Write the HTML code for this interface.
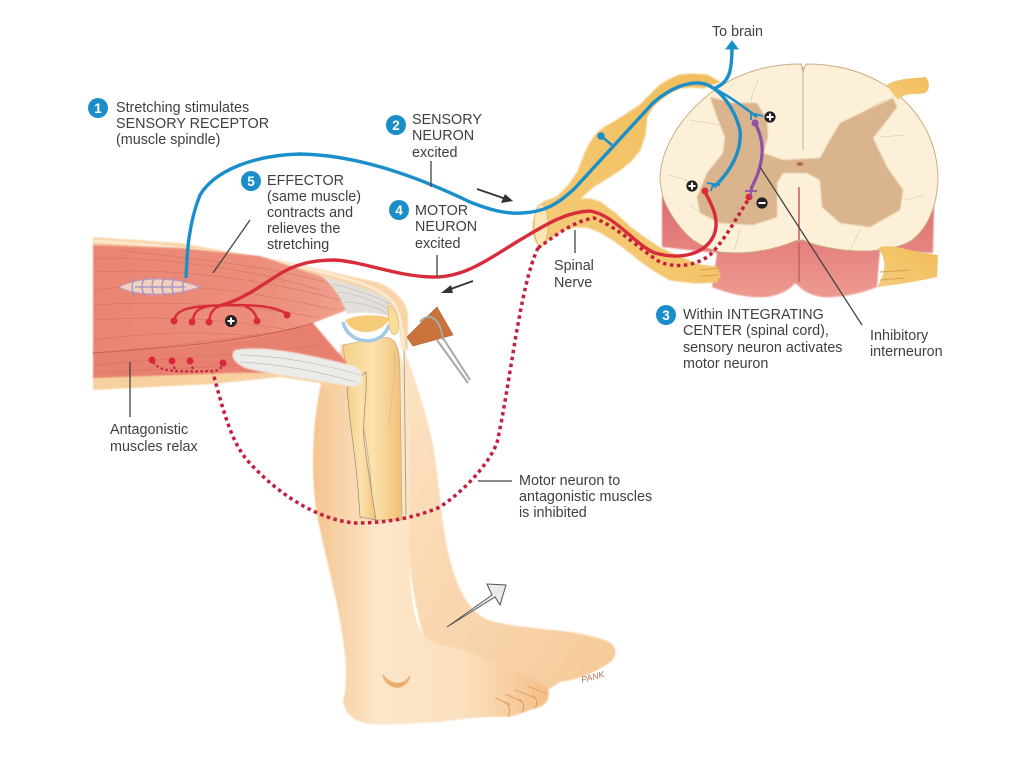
<!DOCTYPE html>
<html><head><meta charset="utf-8"><style>
html,body{margin:0;padding:0;background:#fff}
svg{display:block}
text{font-family:"Liberation Sans",sans-serif;font-size:14.35px;fill:#3f3f3f}
.n{fill:#fff;font-weight:bold;font-size:13.5px;text-anchor:middle}
.l{stroke:#444;stroke-width:1.3;fill:none}
</style></head><body>
<svg width="1024" height="767" viewBox="0 0 1024 767" xmlns="http://www.w3.org/2000/svg">
<defs>
<linearGradient id="skin" x1="0" x2="1" y1="0" y2="0"><stop offset="0" stop-color="#f5c48e"/><stop offset=".28" stop-color="#fce6c9"/><stop offset=".65" stop-color="#fbdfbd"/><stop offset="1" stop-color="#f4bf88"/></linearGradient>
<linearGradient id="skin2" x1="0" x2="1" y1="0" y2="1"><stop offset="0" stop-color="#fce3c4"/><stop offset="1" stop-color="#f6c998"/></linearGradient>
<linearGradient id="mus" x1="0" x2="1" y1="0" y2="0"><stop offset="0" stop-color="#ea8474"/><stop offset=".7" stop-color="#ec8e7c"/><stop offset="1" stop-color="#f0a08e"/></linearGradient>
<linearGradient id="nerve" x1="0" x2="1" y1="1" y2="0"><stop offset="0" stop-color="#f5cd7e"/><stop offset=".5" stop-color="#f3c468"/><stop offset="1" stop-color="#f0bc5e"/></linearGradient>
<linearGradient id="redc" x1="0" x2="0" y1="0" y2="1"><stop offset="0" stop-color="#dc6a6f"/><stop offset="1" stop-color="#ee9a90"/></linearGradient>
<linearGradient id="bone" x1="0" x2="1" y1="0" y2="0"><stop offset="0" stop-color="#f5cf88"/><stop offset=".5" stop-color="#fbe2ac"/><stop offset="1" stop-color="#f2c078"/></linearGradient>
<filter id="b" x="-5%" y="-5%" width="110%" height="110%"><feGaussianBlur stdDeviation=".7"/></filter>
</defs>
<rect width="1024" height="767" fill="#fff"/>

<!-- far leg -->
<path filter="url(#b)" d="M404 350C418 385 428 420 434 450C440 490 442 530 450 560C458 590 468 608 484 618C500 626 540 628 570 632C590 635 608 640 612 644C618 650 616 660 606 665C590 675 575 680 560 682L548 690L470 660L425 640C412 600 405 540 404 480Z" fill="url(#skin2)"/>
<!-- near leg -->
<path filter="url(#b)" d="M322 380C312 420 310 480 318 520C326 560 338 600 343 640C348 670 346 690 343 702C347 716 356 723 372 724C395 726 420 722 440 722C465 718 490 716 510 717C520 714 530 710 540 707C548 704 550 696 548 688C520 670 470 650 433 643C420 636 414 620 411 590C408 550 410 500 410 440C410 400 405 360 395 340L340 345C345 350 330 370 322 380Z" fill="url(#skin)"/>
<path d="M383 675C387 690 405 692 410 676C405 686 390 686 383 675Z" fill="#e8a866" stroke="#eab47a" stroke-width="1.5"/>
<path d="M495 698l16 7M505 694l18 8M515 690l20 8M528 686l18 8" stroke="#e6a468" stroke-width="1.2" fill="none"/>
<path d="M508 716c3-4 2-10-3-14M522 712c3-4 2-10-3-13M535 708c3-4 2-10-3-13" stroke="#e0985c" fill="none"/>
<text x="582" y="683" transform="rotate(-15 582 683)" style="font-size:9px;font-style:italic;fill:#b0785a">PANK</text>

<!-- tibia and fibula -->
<path d="M343 345C360 342 380 336 390 338C397 342 400 350 400 380L402 520L373 520C372 480 368 450 363 425C358 400 345 375 343 345Z" fill="url(#bone)" stroke="#bfa97c" stroke-width=".7"/>
<path d="M347 388L366 372C368 395 362 415 364 440C368 470 372 495 376 520L360 517C358 480 354 450 350 420Z" fill="url(#bone)" stroke="#8f8a78" stroke-width=".7"/>
<path d="M404 345L406 515" stroke="#a9a494" stroke-width="1" fill="none"/>
<path d="M394 350C396 385 391 395 389 425" stroke="#d9bf90" stroke-width="1" fill="none"/>

<!-- thigh skin strips -->
<path filter="url(#b)" d="M93 237L180 243L293 263L380 283C395 290 405 300 408 313L408 350L402 350L398 320L385 300L330 280L260 258L93 246Z" fill="#f8d5a8"/>
<path d="M93 241C170 245 250 255 315 270C350 280 380 285 395 305C402 320 403 335 404 350" fill="none" stroke="#fbe8cd" stroke-width="3"/>
<path filter="url(#b)" d="M93 375L230 372L300 368L340 372L330 390L320 383L280 377L213 384L93 390Z" fill="#f7d0a0"/>

<!-- hamstring -->
<path filter="url(#b)" d="M93 352L190 345L313 323L347 363L340 372L230 373L93 378Z" fill="#e8806f"/>
<!-- quadriceps -->
<path filter="url(#b)" d="M93 245L180 248L260 256L323 277C335 285 345 298 347 310L313 323L260 338L190 347L93 354Z" fill="url(#mus)"/>
<g stroke="#cb6454" stroke-width=".6" fill="none" opacity=".65">
<path d="M95 258C160 258 240 266 320 290M95 272C170 268 250 276 340 300M95 290C170 280 250 290 335 310M95 305C170 300 250 305 320 318M95 320C170 315 230 320 290 330M95 340C170 330 220 332 260 337M120 250C180 258 250 262 325 282M110 352C170 345 230 340 300 328M95 365C170 358 240 355 320 345M95 372C170 370 240 365 335 360"/>
</g>
<path d="M93 353C170 348 260 340 313 323" stroke="#c9604f" stroke-width="1" fill="none"/>

<!-- tendons -->
<path filter="url(#b)" d="M323 277C345 282 372 290 390 300L390 317C375 312 360 312 347 314C342 300 335 288 323 277Z" fill="#e2dfdb"/>
<path filter="url(#b)" d="M235 350C260 345 300 352 355 366C365 372 364 385 353 387C320 380 270 375 245 368C232 362 230 354 235 350Z" fill="#ecebe8"/>
<g stroke="#b9b5ae" stroke-width=".6" fill="none"><path d="M240 355C280 355 330 366 360 375M240 362C280 364 320 372 356 382M332 284C352 288 375 296 390 304M338 292C355 294 375 300 389 310M344 302C358 302 375 306 388 314"/></g>
<!-- patella / cartilage -->
<path d="M343 322C348 345 382 348 389 325" fill="none" stroke="#a2c9e6" stroke-width="3.5"/>
<path d="M345 320C358 314 378 314 389 318C386 332 355 340 345 320Z" fill="#f6cb78"/>
<path d="M388 306C396 306 400 320 398 332C396 336 390 336 389 325Z" fill="#f7dc9a" stroke="#d9b070" stroke-width=".6"/>

<!-- spindle -->
<path d="M119 287C135 278 170 275 200 287C170 297 135 296 119 287Z" fill="#f3cfc0" stroke="#b79ec4" stroke-width="1"/>
<g fill="none" stroke="#9c90c8" stroke-width="1.2"><path d="M135 278c-4 5-4 12 0 18M145 278c-4 5-4 12 0 18M155 277c-4 6-4 13 0 19M165 277c-4 6-4 13 0 19M175 278c-4 5-4 12 0 18M185 279c-3 5-3 10 0 15M135 287h50"/></g>

<!-- hammer -->
<path d="M407 337L437 307L453 335L413 346Z" fill="#c9723a" stroke="#a85c2c" stroke-width=".6"/>
<path d="M437 340L468 383M443 338L470 380M420 322C428 312 440 316 443 340" stroke="#a8a8a8" stroke-width="2" fill="none"/>

<!-- spinal cord -->
<path d="M662 197L662 247L717 253L712 287C735 296 752 298 767 297C780 295 790 290 795 283L803 290C812 296 822 298 833 297C850 296 865 292 877 287L880 250L933 253L934 207Z" fill="url(#redc)" filter="url(#b)"/>
<path d="M799 243L799 282" stroke="#b84a55" stroke-width="1"/>
<path d="M801 64C770 64 740 72 715 90C680 115 660 150 660 180C661 190 663 200 667 207C675 222 683 232 693 240C702 246 710 250 720 252C745 255 775 250 795 241L803 240C815 246 850 254 880 250C895 248 905 245 912 240C928 228 938 205 938 175C936 135 915 105 885 85C860 70 835 64 806 64L803 72Z" fill="#fdf0d9" stroke="#c9ac82" stroke-width="1"/>
<path d="M803 66L803 150" stroke="#cbb595" stroke-width="1"/>
<g stroke="#d9c8a8" stroke-width=".6" fill="none"><path d="M758 80C755 90 750 95 752 102M690 120L720 125M668 175C680 178 690 180 698 188M885 100C875 105 870 108 868 110M905 135L880 137M905 200L925 195M740 228C738 240 735 245 735 250M860 230L850 250M690 205L700 212"/></g>
<!-- grey matter -->
<path filter="url(#b)" d="M710 97L733 103L757 103L767 120L768 137L763 153L783 160L820 158L830 140L840 123L867 110L893 98L897 107L885 123L873 138L887 167L903 190L900 210L870 227L840 223L822 207L820 180L807 173L783 173L777 183L777 217L753 225L720 223L700 213L697 197L707 173L723 153L725 137L717 117Z" fill="#d9b48c"/>
<ellipse cx="800" cy="164" rx="3.5" ry="2" fill="#b7703c"/>
<path d="M799 187L799 240" stroke="#c65a5a" stroke-width="1.5"/>

<!-- right roots -->
<path d="M887 85C895 78 920 78 926 77C930 82 930 90 925 93C915 95 905 92 898 100C894 95 890 90 887 85Z" fill="url(#nerve)"/>
<path d="M878 248C885 245 895 246 905 249C920 252 930 254 938 255L937 277C915 282 895 285 877 287C885 275 888 260 878 248Z" fill="url(#nerve)"/>
<path d="M880 272L910 270M880 280L905 278" stroke="#d9a14e" fill="none"/>

<!-- left nerve -->
<polygon filter="url(#b)" fill="url(#nerve)" stroke="#f2c46e" stroke-width="1" stroke-linejoin="round" points="720,82 707,75 692,74 680,75 668,80 660,85 650,95 640,105 628,113 617,120 605,127 597,133 590,143 585,153 581,164 577,173 568,186 557,197 549,200 543,202 537,212 533,223 533,233 535,240 540,247 551,238 563,230 575,227 587,227 600,232 613,240 628,251 643,263 656,272 670,280 695,283 717,282 720,275 717,267 700,265 680,257 660,248 645,238 630,227 615,213 600,202 590,199 583,199 577,202 585,194 593,187 606,179 620,170 631,161 640,150 645,135 647,117 652,108 660,100 670,93 680,88 692,87 703,88"/>
<ellipse cx="541" cy="225" rx="7" ry="21" fill="#fbe6b4" stroke="#d9b070" stroke-width=".8"/>
<path d="M700 270L720 268M700 276L718 275" stroke="#d9a14e"/>

<!-- motor neuron -->
<path d="M222 305C240 300 255 290 275 277C295 263 315 260 335 260C365 262 395 276 432 277C465 278 490 258 520 240C545 225 565 212 590 211C615 215 635 245 655 253C680 260 705 255 714 235C720 220 712 205 705 192" fill="none" stroke="#d82c3c" stroke-width="3.4" stroke-linecap="round"/>
<path d="M174 320C178 308 190 306 230 305C255 305 275 306 287 314M193 322C193 312 198 308 210 306M209 322C210 312 214 306 225 305M257 320C256 314 252 309 245 306" fill="none" stroke="#d82c3c" stroke-width="2.4"/>
<g fill="#d82c3c"><circle cx="174" cy="321" r="3.5"/><circle cx="192" cy="322" r="3.5"/><circle cx="209" cy="322" r="3.5"/><circle cx="257" cy="321" r="3.5"/><circle cx="287" cy="315" r="3.5"/><circle cx="705" cy="191" r="3.5"/><circle cx="749" cy="197" r="3.5"/></g>

<!-- inhibited dotted -->
<path d="M538 248C560 232 575 221 594 218C620 228 640 250 660 262C680 270 700 263 710 255C725 240 738 215 750 197" fill="none" stroke="#c41f3f" stroke-width="3.5" stroke-dasharray="3.5 3.5"/>
<path d="M538 248C520 285 510 385 497 443C488 465 465 490 440 507C410 520 380 523 355 523C320 520 280 497 247 460C230 440 222 405 213 373" fill="none" stroke="#c41f3f" stroke-width="3.5" stroke-dasharray="3.5 3.5"/>
<path d="M153 362C160 372 175 372 213 371C218 371 222 368 224 363M172 362L176 372M190 362L194 371" fill="none" stroke="#c41f3f" stroke-width="2.2" stroke-dasharray="2.5 2.5"/>
<g fill="#d8263c"><circle cx="152" cy="360" r="3.5"/><circle cx="172" cy="361" r="3.5"/><circle cx="190" cy="361" r="3.5"/><circle cx="223" cy="363" r="3.5"/></g>

<!-- interneuron -->
<path d="M755 123C764 140 764 155 758 173C756 180 752 185 751 190" fill="none" stroke="#9050a8" stroke-width="3.2"/>
<circle cx="755" cy="123" r="3.5" fill="#9050a8"/>
<path d="M745 191L757 191M751 191L751 198" stroke="#9050a8" stroke-width="1.8"/>

<!-- sensory neuron -->
<path d="M186 278C187 255 188 225 200 195C215 170 255 155 300 154C360 155 420 178 470 202C490 210 505 214 522 213C545 212 558 204 575 188L653 103C670 88 690 80 705 84C722 90 735 110 740 130C742 150 732 170 714 187" fill="none" stroke="#1a8fc9" stroke-width="3.4"/>
<path d="M715 88C730 82 732 70 732 46" fill="none" stroke="#1a8fc9" stroke-width="3.4"/>
<path d="M726 49L732 41L738 49Z" fill="#1a8fc9" stroke="#1a8fc9"/>
<path d="M713 88C728 95 745 108 757 117" fill="none" stroke="#1a8fc9" stroke-width="2.6"/>
<path d="M751 113L763 116M751 113L751 120M707 183L720 185M713 184L711 191" stroke="#1a8fc9" stroke-width="1.8" fill="none"/>
<path d="M612 145L602 137" stroke="#1a8fc9" stroke-width="2.6"/>
<circle cx="601" cy="136" r="3.8" fill="#1a8fc9"/>

<!-- leaders -->
<path class="l" d="M431 161V187M437 255V277M213 273L250 220M130 362V417M478 481H512M575 230V253M760 167L862 325"/>

<!-- arrows -->
<path d="M477 189L506 199" stroke="#333" stroke-width="1.8"/><path d="M513 201L501 203L505 194Z" fill="#333"/>
<path d="M473 281L448 290" stroke="#333" stroke-width="1.8"/><path d="M441 293L451 285L453 293Z" fill="#333"/>
<path d="M447 627L492 595L487 584L506 585L500 605L495 597Z" fill="#e6ecee" stroke="#555" stroke-width="1"/>

<!-- badges -->
<g><circle cx="770" cy="117" r="5.6" fill="#222"/><path d="M766.5 117h7M770 113.5v7" stroke="#fff" stroke-width="2"/></g>
<g><circle cx="692" cy="186" r="5.6" fill="#222"/><path d="M688.5 186h7M692 182.5v7" stroke="#fff" stroke-width="2"/></g>
<g><circle cx="762" cy="203" r="5.6" fill="#222"/><path d="M758.5 203h7" stroke="#fff" stroke-width="2"/></g>
<g><circle cx="231" cy="321" r="6" fill="#222"/><path d="M227.5 321h7M231 317.5v7" stroke="#fff" stroke-width="2"/></g>

<g fill="#1b8ec9">
<circle cx="98" cy="108" r="10"/><circle cx="396" cy="125" r="10"/><circle cx="251" cy="181" r="10"/><circle cx="399" cy="210" r="10"/><circle cx="666" cy="315" r="10"/>
</g>
<text class="n" x="98" y="113">1</text><text class="n" x="396" y="130">2</text><text class="n" x="251" y="186">5</text><text class="n" x="399" y="215">4</text><text class="n" x="666" y="320">3</text>

<text x="116" y="112">Stretching stimulates</text>
<text x="116" y="128">SENSORY RECEPTOR</text>
<text x="116" y="144">(muscle spindle)</text>
<text x="412" y="124">SENSORY</text>
<text x="412" y="140">NEURON</text>
<text x="412" y="157">excited</text>
<text x="267" y="185">EFFECTOR</text>
<text x="267" y="201">(same muscle)</text>
<text x="267" y="217">contracts and</text>
<text x="267" y="233">relieves the</text>
<text x="267" y="249">stretching</text>
<text x="415" y="215">MOTOR</text>
<text x="415" y="231">NEURON</text>
<text x="415" y="248">excited</text>
<text x="712" y="36">To brain</text>
<text x="554" y="270">Spinal</text>
<text x="554" y="287">Nerve</text>
<text x="683" y="319">Within INTEGRATING</text>
<text x="683" y="335">CENTER (spinal cord),</text>
<text x="683" y="352">sensory neuron activates</text>
<text x="683" y="368">motor neuron</text>
<text x="870" y="340">Inhibitory</text>
<text x="870" y="356">interneuron</text>
<text x="110" y="434">Antagonistic</text>
<text x="110" y="451">muscles relax</text>
<text x="519" y="485">Motor neuron to</text>
<text x="519" y="501">antagonistic muscles</text>
<text x="519" y="517">is inhibited</text>
</svg>
</body></html>
